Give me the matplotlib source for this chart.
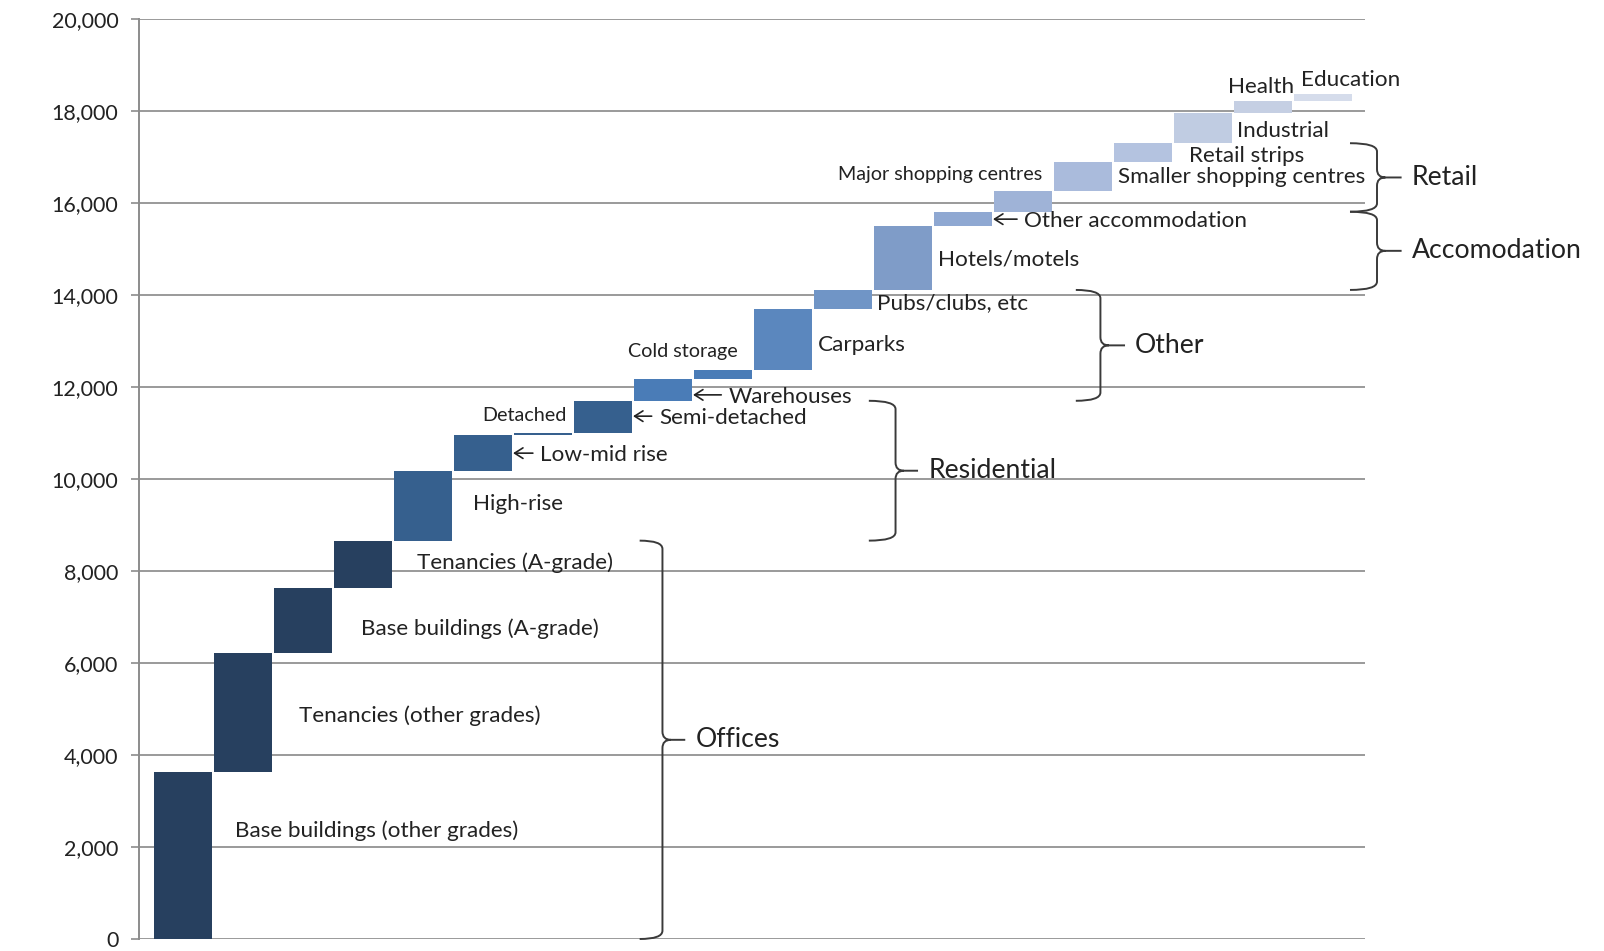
import matplotlib
matplotlib.use("Agg")
import matplotlib.pyplot as plt
from matplotlib.path import Path
from matplotlib.patches import PathPatch
from matplotlib.ticker import FuncFormatter
import numpy as np

plt.rcParams['font.family'] = ['Lato', 'DejaVu Sans']

# ---------------- data ----------------
categories = [
    "Base buildings (other grades)", "Tenancies (other grades)", "Base buildings (A-grade)",
    "Tenancies (A-grade)", "High-rise", "Low-mid rise", "Detached", "Semi-detached",
    "Warehouses", "Cold storage", "Carparks", "Pubs/clubs, etc", "Hotels/motels",
    "Other accommodation", "Major shopping centres", "Smaller shopping centres",
    "Retail strips", "Industrial", "Health", "Education",
]
increments = [3620, 2590, 1430, 1020, 1520, 770, 60, 690,
              470, 200, 1320, 420, 1400, 300, 460, 630, 400, 660, 260, 160]

groups = ["Offices", "Residential", "Other", "Accomodation", "Retail"]
group_first = [0, 4, 8, 12, 14]
group_last = [3, 7, 11, 13, 16]

y_ticks = [0, 2000, 4000, 6000, 8000, 10000, 12000, 14000, 16000, 18000, 20000]

# ---------------- styling / layout ----------------
bar_colors = ["#27405F", "#27405F", "#27405F", "#27405F",
              "#36608E", "#36608E", "#36608E", "#36608E",
              "#4A7CB7", "#4A7CB7", "#5B87BE", "#7095C6", "#7F9CC8",
              "#8FA8D2", "#9FB3D7", "#AABBDC", "#B4C3E0", "#C0CCE2", "#C5CFE3", "#D5DCEB"]
label_x = [0.86, 1.94, 2.96, 3.90, 4.84, 5.95, 4.98, 7.93, 9.09, 7.41, 10.58, 11.56, 12.58,
           14.02, 10.92, 15.58, 16.76, 17.56, 17.42, 18.63]
label_y = [2357, 4848, 6739, 8180, 9450, 10522, 11370, 11326, 11789, 12767, 12913, 13820, 14776,
           15609, 16609, 16572, 17028, 17565, 18515, 18674]
small_labels = ["Detached", "Cold storage", "Major shopping centres"]
arrow_labels = ["Low-mid rise", "Semi-detached", "Warehouses", "Other accommodation"]
brace_x0 = [7.61, 11.43, 14.88, 19.45, 19.45]
brace_x1 = [7.99, 11.875, 15.29, 19.90, 19.90]
brace_x2 = [8.37, 12.25, 15.70, 20.31, 20.31]

# ---------------- figure ----------------
W, H = 1604, 951
fig = plt.figure(figsize=(W / 100, H / 100), dpi=100)
ax = fig.add_axes([139.3 / W, 1 - 939 / H, (1365 - 139.3) / W, (939 - 19) / H])

inc = np.array(increments)
tops = np.cumsum(inc)
bottoms = tops - inc
xs = np.arange(len(categories))

ax.bar(xs, inc, bottom=bottoms, width=0.962, color=bar_colors, linewidth=0, zorder=3)

ax.set_xlim(-0.73, 19.70)
ax.set_ylim(0, 20000)
ax.set_yticks(y_ticks)
ax.yaxis.set_major_formatter(FuncFormatter(lambda v, p: f"{int(v):,}"))
ax.tick_params(axis='y', length=6, width=1.2, color="#8C8C8C", labelsize=15.5,
               labelcolor="#222222", pad=9)
ax.set_xticks([])
ax.grid(axis='y', color="#9A9A9A", linewidth=1.4, zorder=0)
for s in ["top", "right", "bottom"]:
    ax.spines[s].set_visible(False)
ax.spines["left"].set_color("#8C8C8C")
ax.spines["left"].set_linewidth(1.4)

for i, name in enumerate(categories):
    fs = 14.2 if name in small_labels else 16.2
    ax.text(label_x[i], label_y[i], name, fontsize=fs, color="#222222",
            va="center", ha="left", zorder=5)
    if name in arrow_labels:
        ax.annotate("", xy=(i + 0.5, label_y[i] + 40), xytext=(label_x[i] - 0.12, label_y[i] + 40),
                    arrowprops=dict(arrowstyle="->,head_length=0.6,head_width=0.38",
                                    color="#222222", lw=1.2, shrinkA=0, shrinkB=0),
                    annotation_clip=False, zorder=5)

# ---------------- braces ----------------
rx, ry = 0.14, 180
for g, name in enumerate(groups):
    bot = bottoms[group_first[g]]
    top = tops[group_last[g]]
    mid = (bot + top) / 2
    x0, x1, x2 = brace_x0[g], brace_x1[g], brace_x2[g]
    verts = [(x0, top), (x1, top), (x1, top - ry),
             (x1, mid + ry), (x1, mid), (x1 + rx, mid),
             (x2, mid),
             (x1 + rx, mid), (x1, mid), (x1, mid - ry),
             (x1, bot + ry), (x1, bot), (x0, bot)]
    codes = [Path.MOVETO, Path.CURVE3, Path.CURVE3,
             Path.LINETO, Path.CURVE3, Path.CURVE3,
             Path.LINETO,
             Path.MOVETO, Path.CURVE3, Path.CURVE3,
             Path.LINETO, Path.CURVE3, Path.CURVE3]
    ax.add_patch(PathPatch(Path(verts, codes), fill=False, edgecolor="#3A3A3A",
                           lw=1.4, clip_on=False, zorder=4))
    ax.text(x2 + 0.17, mid, name, fontsize=19.2, color="#222222", va="center", ha="left",
            clip_on=False, zorder=5)

fig.savefig("out.png", dpi=100)
